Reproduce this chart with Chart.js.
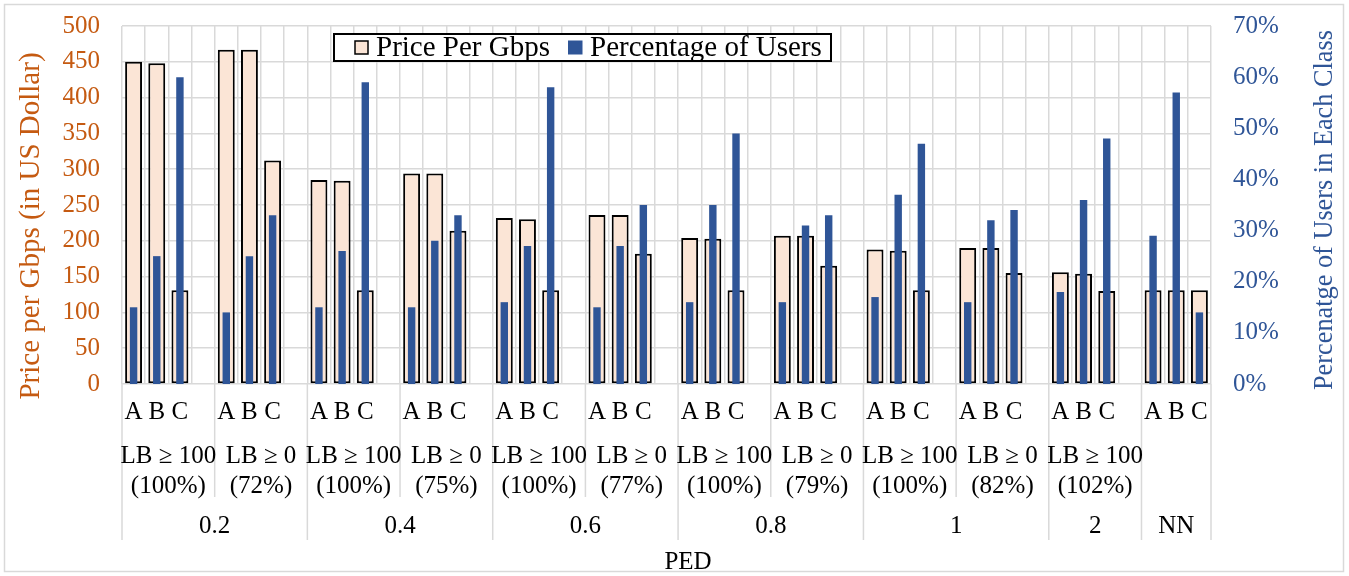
<!DOCTYPE html>
<html><head><meta charset="utf-8">
<script src="https://cdn.jsdelivr.net/npm/chart.js@4.4.0/dist/chart.umd.min.js"></script>
<style>html,body{margin:0;padding:0;background:#fff}#wrap{width:1349px;height:576px}</style>
</head><body><div id="wrap"><canvas id="c" width="1349" height="576"></canvas></div>
<script>
const classes = ["A", "B", "C"];
const lbLabels = ["LB ≥ 100","LB ≥ 0","LB ≥ 100","LB ≥ 0","LB ≥ 100","LB ≥ 0","LB ≥ 100","LB ≥ 0","LB ≥ 100","LB ≥ 0","LB ≥ 100",""];
const lbShares = ["(100%)","(72%)","(100%)","(75%)","(100%)","(77%)","(100%)","(79%)","(100%)","(82%)","(102%)",""];
const pedLabels = ["0.2","0.4","0.6","0.8","1","2","NN"];
const pedGroupCounts = [2,2,2,2,2,1,1];
const priceA = [450,467,285,294,232,236,204,207,188,190,156,131];
const priceB = [448,467,284,294,230,236,203,207,186,190,154,131];
const priceC = [131,312,131,214,131,182,131,165,131,155,130,131];
const usersA = [15,14,15,15,16,15,16,16,17,16,18,29];
const usersB = [25,25,26,28,27,27,35,31,37,32,36,57];
const usersC = [60,33,59,33,58,35,49,33,47,34,48,14];
const priceTicks = {min:0, max:500, step:50};
const userTicks = {min:0, max:70, step:10};

const FONT = "'Liberation Serif','Times New Roman',serif";
const ORANGE = '#C55A11', BLUE = '#2F5597', GRID = '#D9D9D9', PEACH = '#FBE5D6';

const nGroups = priceA.length;
const labels = [], priceData = [], userData = [], groupStart = [];
const priceCols = [priceA, priceB, priceC], userCols = [usersA, usersB, usersC];
for (let g = 0; g < nGroups; g++) {
  groupStart.push(labels.length);
  for (let k = 0; k < 3; k++) {
    labels.push(classes[k]);
    priceData.push(priceCols[k][g]);
    userData.push(userCols[k][g]);
  }
  if (g < nGroups - 1) { labels.push(''); priceData.push(null); userData.push(null); }
}
const nCats = labels.length;

const decor = {
  id: 'decor',
  beforeDraw(chart) {
    const c = chart.ctx;
    c.save();
    c.fillStyle = '#fff';
    c.fillRect(0, 0, chart.width, chart.height);
    c.restore();
  },
  afterDraw(chart) {
    const c = chart.ctx;
    const xs = chart.scales.x;
    const w = (xs.right - xs.left) / nCats;
    const edge = i => xs.left + i * w;
    const bottom = chart.chartArea.bottom;
    c.save();
    c.strokeStyle = GRID; c.lineWidth = 1.5;
    c.strokeRect(4.5, 4.5, 1339, 567);
    const groupEnd = g => (g < nGroups - 1 ? groupStart[g] + 4 : nCats);
    const pedBoundaries = new Set();
    let gi = 0;
    pedGroupCounts.forEach(n => { gi += n; pedBoundaries.add(gi); });
    c.beginPath();
    c.moveTo(edge(0), bottom); c.lineTo(edge(0), 540);
    for (let g = 0; g < nGroups; g++) {
      const x = edge(groupEnd(g));
      c.moveTo(x, bottom);
      c.lineTo(x, pedBoundaries.has(g + 1) ? 540 : 497);
    }
    c.stroke();
    c.fillStyle = '#000';
    c.font = `25px ${FONT}`;
    c.textAlign = 'center'; c.textBaseline = 'middle';
    for (let g = 0; g < nGroups; g++) {
      const cx = (edge(groupStart[g]) + edge(groupEnd(g))) / 2;
      c.fillText(lbLabels[g], cx, 456);
      c.fillText(lbShares[g], cx, 486);
    }
    let g0 = 0;
    pedGroupCounts.forEach((n, i) => {
      const x0 = edge(groupStart[g0]), x1 = edge(groupEnd(g0 + n - 1));
      c.fillText(pedLabels[i], (x0 + x1) / 2, 526);
      g0 += n;
    });
    c.fillText('PED', 688, 562);
    c.save(); c.translate(31, 226); c.rotate(-Math.PI / 2);
    c.font = `29px ${FONT}`;
    c.fillStyle = ORANGE; c.fillText('Price per Gbps (in US Dollar)', 0, 0); c.restore();
    c.save(); c.translate(1325, 210); c.rotate(-Math.PI / 2);
    c.font = `26.3px ${FONT}`;
    c.fillStyle = BLUE; c.fillText('Percenatge of Users in Each Class', 0, 0); c.restore();
    c.font = `29px ${FONT}`;
    c.fillStyle = '#fff'; c.fillRect(334, 34, 497, 27);
    c.strokeStyle = '#000'; c.lineWidth = 2; c.strokeRect(334, 34, 497, 27);
    c.fillStyle = PEACH; c.fillRect(355, 41, 13, 13);
    c.lineWidth = 1.5; c.strokeRect(355, 41, 13, 13);
    c.fillStyle = BLUE; c.fillRect(568, 40.5, 14.5, 14);
    c.fillStyle = '#000'; c.textAlign = 'left';
    c.fillText('Price Per Gbps', 376, 48);
    c.fillText('Percentage of Users', 590, 48);
    c.restore();
  }
};

new Chart(document.getElementById('c'), {
  type: 'bar',
  data: {
    labels,
    datasets: [
      { label: 'Price Per Gbps', data: priceData, yAxisID: 'y', backgroundColor: PEACH,
        borderColor: '#000', borderWidth: 2, borderSkipped: false,
        barPercentage: 0.73, categoryPercentage: 1, grouped: false, order: 2 },
      { label: 'Percentage of Users', data: userData, yAxisID: 'y1', backgroundColor: BLUE,
        borderWidth: 0, barPercentage: 0.32, categoryPercentage: 1, grouped: false, order: 1 }
    ]
  },
  options: {
    responsive: false, animation: false, devicePixelRatio: 1,
    layout: { padding: { top: 26, left: 0, right: 0, bottom: 0 } },
    plugins: { legend: { display: false }, tooltip: { enabled: false } },
    scales: {
      x: {
        grid: { color: GRID, lineWidth: 1.5, drawTicks: false, offset: true },
        border: { display: false },
        ticks: { color: '#000', font: { family: FONT, size: 25 }, padding: 13, autoSkip: false, maxRotation: 0 },
        afterFit: s => { s.height = 192; }
      },
      y: {
        position: 'left', min: priceTicks.min, max: priceTicks.max,
        grid: { color: GRID, lineWidth: 1.5, drawTicks: false },
        border: { display: false },
        ticks: { stepSize: priceTicks.step, color: ORANGE, font: { family: FONT, size: 25 }, padding: 22 },
        afterFit: s => { s.width = 122; s.paddingTop = 0; s.paddingBottom = 0; }
      },
      y1: {
        position: 'right', min: userTicks.min, max: userTicks.max,
        grid: { display: false, drawTicks: false },
        border: { display: false },
        ticks: { stepSize: userTicks.step, color: BLUE, font: { family: FONT, size: 25 }, padding: 22,
                 callback: v => v + '%' },
        afterFit: s => { s.width = 1349 - 1211; s.paddingTop = 0; s.paddingBottom = 0; }
      }
    }
  },
  plugins: [decor]
});
</script></body></html>
